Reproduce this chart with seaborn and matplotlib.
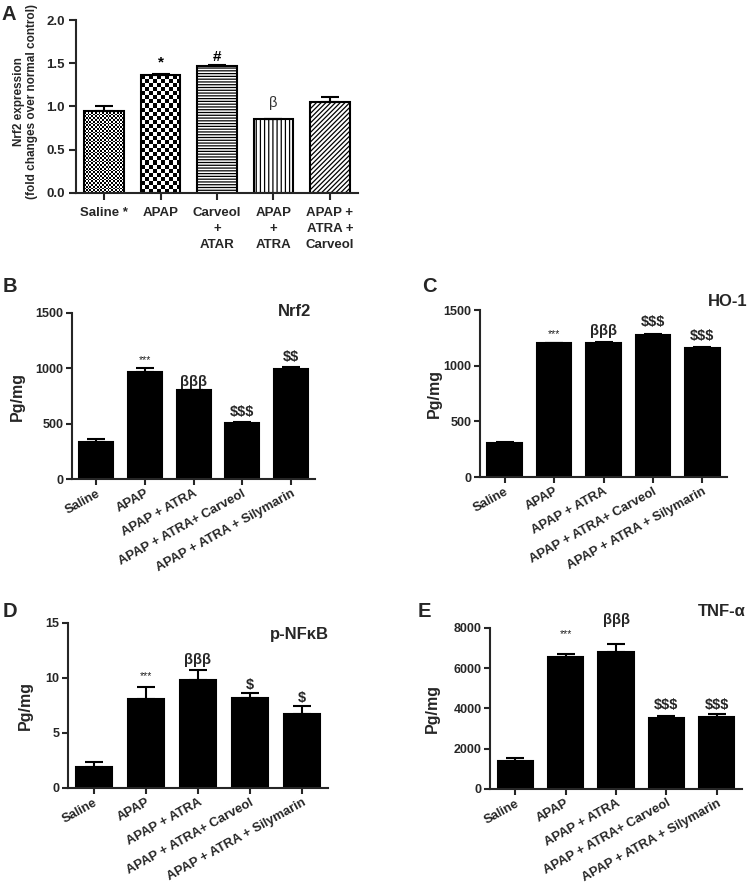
import numpy as np
import pandas as pd
import seaborn as sns
import matplotlib.pyplot as plt

# Panel A - Nrf2 expression (fold changes over normal control)
a_groups = ["Saline *", "APAP", "Carveol\n+\nATAR", "APAP\n+\nATRA", "APAP +\nATRA +\nCarveol"]
a_mean = [0.95, 1.36, 1.47, 0.85, 1.05]
a_sem = [0.05, 0.01, 0.015, 0.01, 0.06]
a_marks = ["", "*", "#", "\u03b2", ""]

# Panels B-E share the same groups
groups = ["Saline", "APAP", "APAP + ATRA", "APAP + ATRA+ Carveol", "APAP + ATRA + Silymarin"]

nrf2_mean = [330, 970, 800, 505, 990]
nrf2_sem = [35, 35, 5, 10, 25]
nrf2_marks = ["", "***", "\u03b2\u03b2\u03b2", "$$$", "$$"]

ho1_mean = [310, 1200, 1200, 1280, 1160]
ho1_sem = [5, 5, 10, 8, 10]
ho1_marks = ["", "***", "\u03b2\u03b2\u03b2", "$$$", "$$$"]

nfkb_mean = [1.9, 8.05, 9.85, 8.15, 6.7]
nfkb_sem = [0.45, 1.15, 0.85, 0.45, 0.75]
nfkb_marks = ["", "***", "\u03b2\u03b2\u03b2", "$", "$"]

tnf_mean = [1400, 6550, 6800, 3520, 3560]
tnf_sem = [150, 180, 420, 100, 170]
tnf_marks = ["", "***", "\u03b2\u03b2\u03b2", "$$$", "$$$"]

sns.set_theme(style="ticks")
plt.rcParams["font.family"] = ["Liberation Sans", "DejaVu Sans"]
plt.rcParams["font.weight"] = "bold"
plt.rcParams["hatch.linewidth"] = 0.9

fig = plt.figure(figsize=(7.47, 8.93), dpi=100)

LW = 1.5


def draw_bars(ax, names, mean, sem, color, ymax, ystep):
    df = pd.DataFrame({"group": names, "value": mean})
    sns.barplot(data=df, x="group", y="value", color=color, saturation=1,
                width=0.7, edgecolor="black", linewidth=LW, errorbar=None, ax=ax)
    x = np.arange(len(mean))
    ax.errorbar(x, mean, yerr=[np.zeros(len(sem)), sem], fmt="none",
                ecolor="black", elinewidth=LW, capsize=6.5, capthick=LW, zorder=3)
    ax.set_xlim(-0.5, len(mean) - 0.5)
    ax.set_ylim(0, ymax)
    ax.set_yticks(np.arange(0, ymax + ystep / 2, ystep))
    ax.set_xlabel("")
    sns.despine(ax=ax)
    for s in ["left", "bottom"]:
        ax.spines[s].set_linewidth(LW)
    ax.tick_params(axis="both", direction="out", length=4, width=LW, pad=2)
    ax.tick_params(axis="y", labelsize=9)


def add_marks(ax, mean, sem, marks, gaps, ymax, star_size=7.5, other_size=10.5):
    for i, m in enumerate(marks):
        if not m:
            continue
        y = mean[i] + sem[i] + gaps[i] * ymax
        if m == "***":
            ax.text(i, y, m, ha="center", va="center", fontsize=star_size,
                    fontweight="normal", color="#222222", parse_math=False)
        else:
            ax.text(i, y, m, ha="center", va="center", fontsize=other_size,
                    fontweight="bold", parse_math=False)


def checker(ax, patch, square_px):
    x0, w, h = patch.get_x(), patch.get_width(), patch.get_height()
    p0 = ax.transData.transform((x0, 0))
    p1 = ax.transData.transform((x0 + w, h))
    nx = max(1, int(round((p1[0] - p0[0]) / square_px)))
    ny = max(1, int(round((p1[1] - p0[1]) / square_px)))
    board = np.add.outer(np.arange(ny), np.arange(nx)) % 2
    im = ax.imshow(board, extent=(x0, x0 + w, 0, h), cmap="gray", aspect="auto",
                   interpolation="nearest", zorder=0.9, origin="lower")
    im.set_clip_path(patch)
    patch.set_facecolor("none")


# ---- Panel A ----
axA = fig.add_axes([0.1017, 0.7839, 0.3775, 0.1937])
draw_bars(axA, a_groups, a_mean, a_sem, "white", 2.0, 0.5)
axA.set_yticks(np.arange(0, 2.01, 0.5))
axA.set_yticklabels(["0.0", "0.5", "1.0", "1.5", "2.0"])
axA.tick_params(axis="both", length=5, pad=3)
axA.tick_params(axis="x", pad=5)
axA.tick_params(axis="y", labelsize=9.5)
axA.tick_params(axis="x", labelsize=9.5)
patches = axA.patches
checker(axA, patches[0], 1.8)
checker(axA, patches[1], 4.0)
patches[2].set_hatch("------")
patches[3].set_hatch("||||")
patches[4].set_hatch("///////")
axA.set_xlim(-0.5, 4.5)
axA.set_ylim(0, 2.0)
axA.set_ylabel("Nrf2 expression\n(fold changes over normal control)", fontsize=8.5,
               fontweight="bold", linespacing=1.05)
axA.yaxis.set_label_coords(-0.136, 0.53)
for lab in axA.get_xticklabels():
    lab.set_linespacing(1.45)
a_gaps = [0, 0.07, 0.045, 0.09, 0]
for i, m in enumerate(a_marks):
    if m:
        axA.text(i, a_mean[i] + a_sem[i] + a_gaps[i] * 2.0, m, ha="center", va="center",
                 fontsize=11 if m != "\u03b2" else 10.5,
                 fontweight="normal" if m == "\u03b2" else "bold",
                 color="#333333" if m == "\u03b2" else "black")

# ---- Panels B-E ----
panels = [
    ([0.0964, 0.4636, 0.3253, 0.1859], nrf2_mean, nrf2_sem, nrf2_marks, 1500, 500,
     [0, 0.045, 0.05, 0.06, 0.058], -0.193),
    ([0.6426, 0.4658, 0.3307, 0.1870], ho1_mean, ho1_sem, ho1_marks, 1500, 500,
     [0, 0.05, 0.067, 0.069, 0.064], -0.154),
    ([0.0910, 0.1176, 0.3481, 0.1848], nfkb_mean, nfkb_sem, nfkb_marks, 15, 5,
     [0, 0.065, 0.06, 0.053, 0.05], -0.135),
    ([0.6560, 0.1165, 0.3373, 0.1803], tnf_mean, tnf_sem, tnf_marks, 8000, 2000,
     [0, 0.12, 0.1475, 0.069, 0.055], -0.198),
]
for rect, mean, sem, marks, ymax, ystep, gaps, lab_x in panels:
    ax = fig.add_axes(rect)
    draw_bars(ax, groups, mean, sem, "black", ymax, ystep)
    ax.set_xticks(range(len(groups)))
    ax.set_xticklabels(groups, rotation=29, ha="right", rotation_mode="anchor",
                       fontsize=9.4, fontweight="bold")
    ax.set_ylabel("Pg/mg", fontsize=11.5, fontweight="bold")
    ax.yaxis.set_label_coords(lab_x, 0.5)
    add_marks(ax, mean, sem, marks, gaps, ymax)

# panel titles
fig.text(278 / 747, 1 - 311 / 893, "Nrf2", fontsize=12, fontweight="bold", va="center")
fig.text(708 / 747, 1 - 302 / 893, "HO-1", fontsize=12, fontweight="bold", va="center")
fig.text(270 / 747, 1 - 634 / 893, "p-NF\u03baB", fontsize=12, fontweight="bold", va="center")
fig.text(698 / 747, 1 - 611 / 893, "TNF-\u03b1", fontsize=12, fontweight="bold", va="center")

# panel letters
for letter, px, py in [("A", 1, 20), ("B", 3, 292), ("C", 422, 292), ("D", 3, 617), ("E", 418, 617)]:
    fig.text(px / 747, 1 - py / 893, letter, fontsize=14.5, fontweight="bold",
             va="baseline", ha="left")

fig.savefig("out.png", dpi=100)
